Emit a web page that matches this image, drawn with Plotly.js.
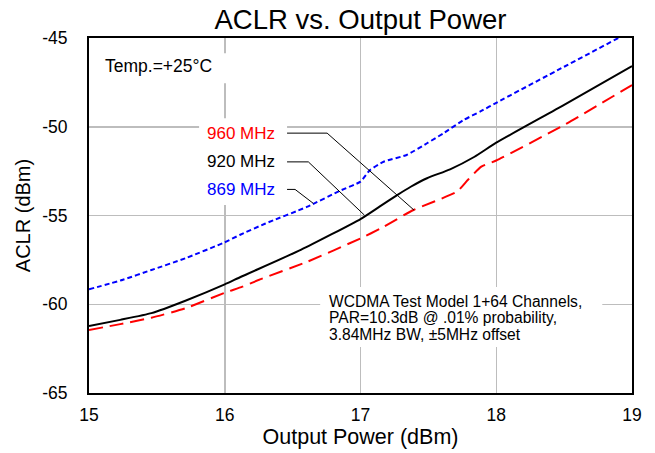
<!DOCTYPE html>
<html>
<head>
<meta charset="utf-8">
<script src="https://cdn.plot.ly/plotly-3.0.1.min.js"></script>
<style>html,body{margin:0;padding:0;background:#fff;}#chart{width:655px;height:453px;}</style>
</head>
<body>
<div id="chart"></div>
<script>
// Series: 869 MHz (blue dotted)
const x869 = [15.0, 15.25, 15.46, 15.71, 16.0, 16.11, 16.3, 16.61, 16.85, 17.0, 17.07, 17.17, 17.34, 17.49, 17.61, 17.76, 17.89, 18.0, 18.5, 18.91, 19.0];
const y869 = [-59.16, -58.62, -58.07, -57.41, -56.51, -56.10, -55.45, -54.5, -53.6, -53.09, -52.44, -51.97, -51.59, -50.93, -50.37, -49.62, -49.11, -48.65, -46.62, -44.96, -44.6];
// Series: 920 MHz (black solid)
const x920 = [15.0, 15.23, 15.46, 15.71, 16.0, 16.12, 16.56, 17.0, 17.14, 17.27, 17.37, 17.49, 17.66, 17.84, 18.0, 18.5, 19.0];
const y920 = [-61.23, -60.88, -60.5, -59.8, -58.88, -58.45, -56.94, -55.2, -54.5, -53.85, -53.38, -52.9, -52.4, -51.69, -50.9, -48.77, -46.58];
// Series: 960 MHz (red dashed)
const x960 = [15.0, 15.23, 15.46, 15.71, 16.0, 16.13, 16.26, 16.61, 17.0, 17.15, 17.39, 17.71, 17.79, 17.89, 18.0, 18.5, 19.0];
const y960 = [-61.45, -61.12, -60.76, -60.23, -59.35, -59.01, -58.6, -57.6, -56.29, -55.72, -54.69, -53.66, -53.0, -52.25, -51.9, -49.9, -47.65];

const xTicks = [15, 16, 17, 18, 19];
const yTicks = [-65, -60, -55, -50, -45];
const seriesNames = ['960 MHz', '920 MHz', '869 MHz'];
const noteLines = ['WCDMA Test Model 1+64 Channels,', 'PAR=10.3dB @ .01% probability,', '3.84MHz BW, \u00b15MHz offset'];
const tempNote = 'Temp.=+25\u00b0C';

const font = 'Liberation Sans, Arial, sans-serif';

const traces = [
  {x: x869, y: y869, mode: 'lines', name: seriesNames[2], line: {color: '#0000ff', width: 2, dash: '5px,3px', shape: 'spline', smoothing: 0.5}},
  {x: x960, y: y960, mode: 'lines', name: seriesNames[0], line: {color: '#ff0000', width: 2, dash: '14px,7px', shape: 'spline', smoothing: 0.5}},
  {x: x920, y: y920, mode: 'lines', name: seriesNames[1], line: {color: '#000000', width: 2, shape: 'spline', smoothing: 0.5}}
];

const whiteBox = (x0, x1, y0, y1) => ({type: 'rect', layer: 'between', xref: 'x', yref: 'y', x0, x1, y0, y1, fillcolor: '#ffffff', line: {width: 0}});
const leader = (pts) => ({type: 'path', layer: 'above', xref: 'x', yref: 'y',
  path: 'M' + pts.map(p => p[0] + ',' + p[1]).join(' L'), line: {color: '#000000', width: 1}});

const shapes = [
  whiteBox(15.059, 16.024, -45.86, -47.55),
  whiteBox(15.811, 16.459, -49.52, -54.41),
  whiteBox(16.703, 18.781, -59.03, -62.41),
  leader([[16.459, -50.36], [16.754, -50.36], [17.395, -54.70]]),
  leader([[16.459, -51.98], [16.616, -51.98], [17.029, -54.98]]),
  leader([[16.459, -53.53], [16.518, -53.53], [16.653, -54.32]])
];

const labelColors = ['#ff0000', '#000000', '#0000ff'];
const labelY = [-50.36, -51.94, -53.51];
const annotations = [];
seriesNames.forEach((n, i) => annotations.push({
  x: 16.386, y: labelY[i], xref: 'x', yref: 'y', text: n, showarrow: false,
  xanchor: 'right', yanchor: 'middle', font: {family: font, size: 17, color: labelColors[i]}
}));
annotations.push({x: 15.103, y: -46.59, xref: 'x', yref: 'y', text: tempNote, showarrow: false,
  xanchor: 'left', yanchor: 'middle', font: {family: font, size: 17.5, color: '#000'}});
const noteY = [-59.82, -60.77, -61.73];
noteLines.forEach((t, i) => annotations.push({x: 16.754, y: noteY[i], xref: 'x', yref: 'y', text: t, showarrow: false,
  xanchor: 'left', yanchor: 'middle', font: {family: font, size: 15.6, color: '#000'}}));

const layout = {
  width: 655, height: 453,
  margin: {l: 89, r: 23, t: 38, b: 60, pad: 0},
  paper_bgcolor: '#ffffff', plot_bgcolor: '#ffffff',
  showlegend: false,
  font: {family: font, color: '#000'},
  title: {text: 'ACLR vs. Output Power', font: {family: font, size: 27.5, color: '#000'},
    x: 0.5, xref: 'paper', y: 1 - 19 / 453, yref: 'container', yanchor: 'middle'},
  xaxis: {range: [15, 19], tickvals: xTicks, ticktext: xTicks.map(String), showgrid: true,
    gridcolor: '#bdbdbd', gridwidth: 1.5, zeroline: false, showline: true, mirror: true,
    linecolor: '#000', linewidth: 2, ticks: '', ticklabelstandoff: 5,
    tickfont: {family: font, size: 17.5, color: '#000'},
    title: {text: 'Output Power (dBm)', font: {family: font, size: 21.5, color: '#000'}, standoff: 5}},
  yaxis: {range: [-65, -45], tickvals: yTicks, ticktext: yTicks.map(String), showgrid: true,
    gridcolor: '#bdbdbd', gridwidth: 1.5, zeroline: false, showline: true, mirror: true,
    linecolor: '#000', linewidth: 2, ticks: '', ticklabelstandoff: 16,
    tickfont: {family: font, size: 17.5, color: '#000'},
    title: {text: 'ACLR (dBm)', font: {family: font, size: 20, color: '#000'}, standoff: 6}},
  shapes, annotations
};

Plotly.newPlot('chart', traces, layout, {displayModeBar: false, staticPlot: true});
</script>
</body>
</html>
